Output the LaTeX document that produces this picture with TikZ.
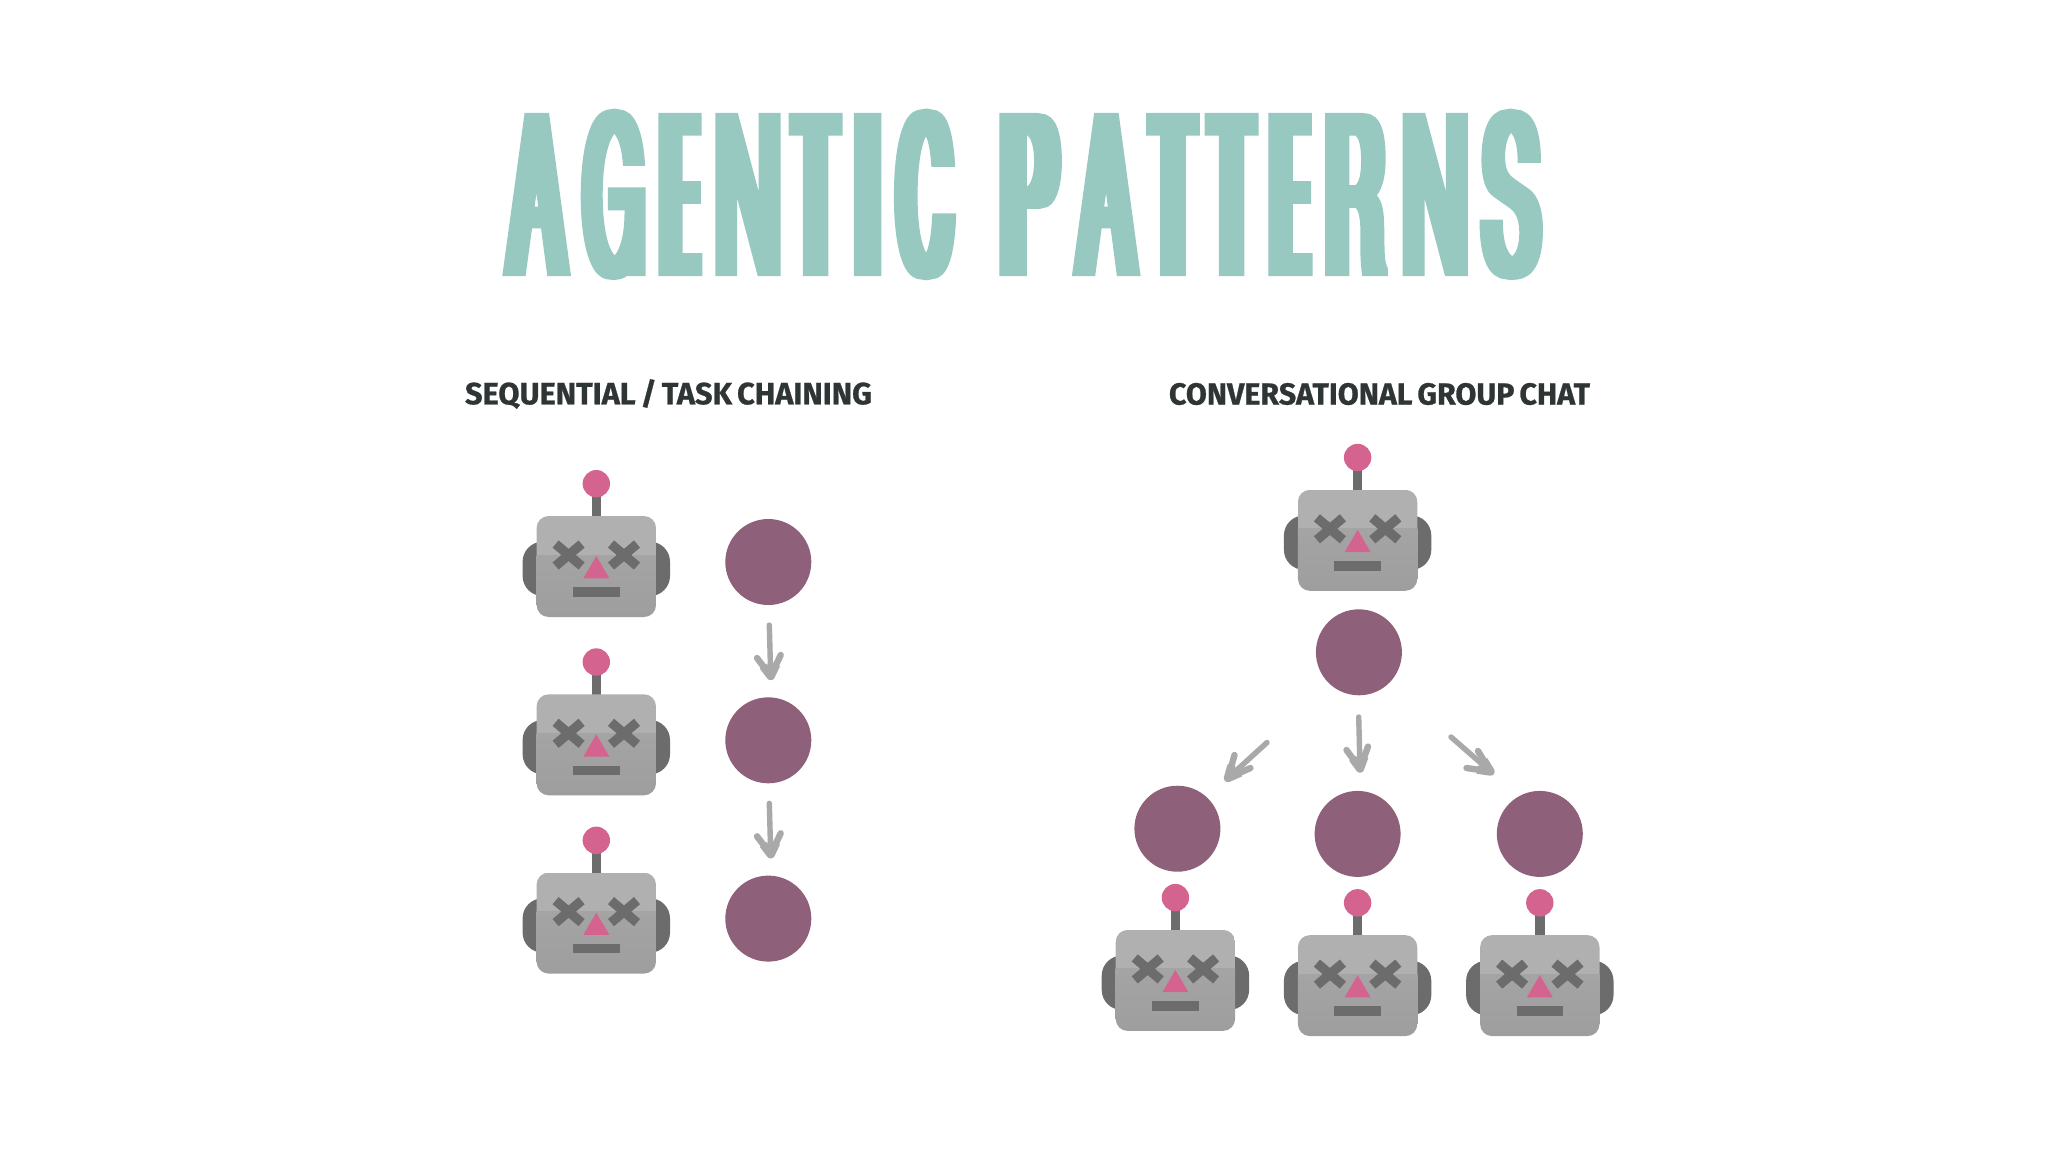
\documentclass[tikz,border=0pt]{standalone}
\usepackage{fontspec}
\usepackage{graphicx}
\setmainfont{Liberation Sans}
\newfontfamily\headfont[WordSpace=0.7,FakeBold=0.8]{Fira Sans Bold}
\usetikzlibrary{calc}
\definecolor{titleteal}{HTML}{98C9C1}
\definecolor{inkdark}{HTML}{2F3535}
\definecolor{plum}{HTML}{8F6079}
\definecolor{pinkball}{HTML}{D4648F}
\definecolor{darkgrey}{HTML}{6C6C6C}
\definecolor{headlight}{HTML}{B0B0B0}
\definecolor{headlow}{HTML}{A4A4A4}
\definecolor{headbot}{HTML}{9E9E9E}
\definecolor{arrowgrey}{HTML}{A9A9A9}
% one title letter: glyph, outline widening k, font stretch, left bearing, left ink edge (px from title start)
\newcommand{\tl}[5]{%
  \pgfmathsetlengthmacro{\tlx}{0.5*(#5+2.5*#2)-#4*0.1085*#3*#2}%
  \rlap{\hskip\tlx\scalebox{#2}[1]{\fontspec[FakeStretch=#3,FakeBold=2.3]{TeX Gyre Heros}\fontsize{108.5pt}{108.5pt}\selectfont #1}}}
\tikzset{
  x=0.5pt,y=-0.5pt,
  bubble/.style={circle,fill=plum,minimum size=43pt,inner sep=0pt,outer sep=0pt},
  headlabel/.style={inner sep=0pt,text=inkdark,font=\headfont},
  shaft/.style={draw=arrowgrey,line width=2.7pt,line cap=round},
  barb/.style={draw=arrowgrey,line width=3.2pt,line cap=round,line join=round},
  robot/.pic={
    \fill[darkgrey] (-4.7,-20) rectangle (4.7,2);
    \fill[pinkball] (0,-32.3) circle[radius=13.7];
    \fill[darkgrey,rounded corners=10pt] (-73.7,25.7) rectangle (73.7,80);
    \begin{scope}
      \clip[rounded corners=6pt] (-59.7,0) rectangle (59.7,101);
      \fill[headlight] (-60,0) rectangle (60,40);
      \shade[top color=headlow,bottom color=headbot] (-60,39) rectangle (60,101);
    \end{scope}
    \foreach \sx in {-27.7,27.7}{
      \draw[darkgrey,line width=4.7pt] (\sx-13,28) -- (\sx+13,50);
      \draw[darkgrey,line width=4.7pt] (\sx-13,50) -- (\sx+13,28);
    }
    \fill[pinkball] (0,40) -- (13,62.3) -- (-13,62.3) -- cycle;
    \fill[darkgrey] (-23.2,71.3) rectangle (23.2,80.7);
  }
}
\newcommand{\handarrow}[4]{%
  \draw[shaft] (#1) -- (#2);
  \draw[barb] (#3) -- (#2) -- (#4);
  \draw[barb,line width=4.2pt,line cap=butt] ($(#2)!0.55!(#3)$) -- (#2) -- ($(#2)!0.55!(#4)$);
}
\begin{document}
\begin{tikzpicture}
\useasboundingbox (0,0) rectangle (2048,1152);
\fill[white] (0,0) rectangle (2048,1152);
% title
\node[inner sep=0pt,text=titleteal,anchor=base west] (title) at (502,273.5)
  {\makebox[521pt][l]{%
   \tl{A}{3}{.128}{14}{0}\tl{G}{3}{.1155}{48}{78.6}\tl{E}{4}{.053}{86}{155.7}\tl{N}{2.8}{.148}{76}{212.9}\tl{T}{4}{.068}{14}{285.9}\tl{I}{4}{.094}{91}{350.6}\tl{C}{3.4}{.0975}{44}{391.2}%
   \tl{P}{4}{.093}{86}{496.6}\tl{A}{3}{.128}{14}{569.6}\tl{T}{4}{.068}{14}{643.3}\tl{T}{4}{.068}{14}{701.9}\tl{E}{4}{.053}{86}{765.9}\tl{R}{3.4}{.1055}{88}{822.4}\tl{N}{2.8}{.148}{76}{900.2}\tl{S}{3.2}{.119}{49}{977.3}}};
% headings
\node[headlabel] (seqhead) at (668.5,394) {\resizebox{203.5pt}{!}{SEQUENTIAL / TASK CHAINING}};
\node[headlabel] (grouphead) at (1379.5,394) {\resizebox{210.5pt}{!}{CONVERSATIONAL GROUP CHAT}};
% left column robots
\pic (ra) at (596.3,516) {robot};
\pic (rb) at (596.3,694.3) {robot};
\pic (rc) at (596.3,872.6) {robot};
% left column circles
\node[bubble] (ca) at (768.3,562) {};
\node[bubble] (cb) at (768.3,740.3) {};
\node[bubble] (cc) at (768.3,918.6) {};
% right robots
\pic (rd) at (1357.6,489.8) {robot};
\pic (re) at (1175.4,929.9) {robot};
\pic (rf) at (1357.6,935.1) {robot};
\pic (rg) at (1539.8,935.1) {robot};
% right circles
\node[bubble] (cd) at (1358.9,652.3) {};
\node[bubble] (ce) at (1177.4,828.7) {};
\node[bubble] (cf) at (1357.6,833.9) {};
\node[bubble] (cg) at (1539.8,833.9) {};
% arrow coordinates
\coordinate (a1s) at (769.3,625); \coordinate (a1t) at (770.7,676); \coordinate (a1l) at (757,658); \coordinate (a1r) at (780.7,655);
\coordinate (a2s) at (769.3,803.3); \coordinate (a2t) at (770.7,854.3); \coordinate (a2l) at (757,836.3); \coordinate (a2r) at (780.7,833.3);
\coordinate (a3s) at (1358.7,717); \coordinate (a3t) at (1360,768.5); \coordinate (a3l) at (1346.5,750); \coordinate (a3r) at (1368,746.5);
\coordinate (a4s) at (1267,742.5); \coordinate (a4t) at (1228,778); \coordinate (a4l) at (1234.5,755); \coordinate (a4r) at (1250.5,768);
\coordinate (a5s) at (1451,737); \coordinate (a5t) at (1490.5,771.5); \coordinate (a5l) at (1478,751); \coordinate (a5r) at (1466.5,768);
\handarrow{a1s}{a1t}{a1l}{a1r}
\handarrow{a2s}{a2t}{a2l}{a2r}
\handarrow{a3s}{a3t}{a3l}{a3r}
\handarrow{a4s}{a4t}{a4l}{a4r}
\handarrow{a5s}{a5t}{a5l}{a5r}
\end{tikzpicture}
\end{document}
